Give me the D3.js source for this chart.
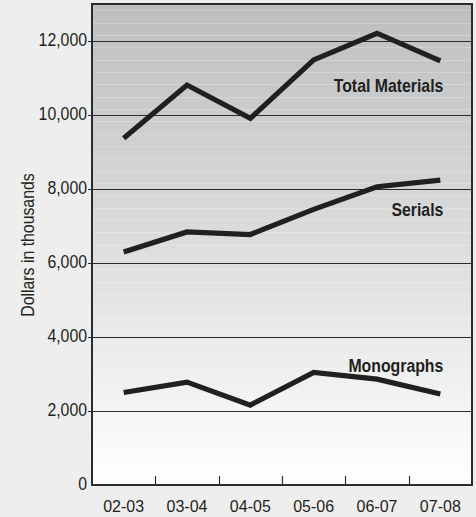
<!DOCTYPE html>
<html>
<head>
<meta charset="utf-8">
<script src="https://cdn.jsdelivr.net/npm/d3@7/dist/d3.min.js"></script>
<style>
  html, body { margin: 0; padding: 0; background: #eeeeee; }
  svg { display: block; }
  text { font-family: "Liberation Sans", Arial, Helvetica, sans-serif; fill: #231f20; }
</style>
</head>
<body>
<script>
const years = ["02-03", "03-04", "04-05", "05-06", "06-07", "07-08"];
const totalMaterials = [9370, 10810, 9910, 11490, 12210, 11460];
const serials = [6300, 6840, 6770, 7450, 8060, 8240];
const monographs = [2500, 2780, 2160, 3040, 2860, 2460];
const yTicks = [0, 2000, 4000, 6000, 8000, 10000, 12000];
const seriesNames = ["Total Materials", "Serials", "Monographs"];
const yTitle = "Dollars in thousands";

const W = 476, H = 517;
const margin = { top: 4, right: 4, bottom: 32, left: 92 };
const iw = W - margin.left - margin.right;
const ih = H - margin.top - margin.bottom;
const cond = 0.88; // horizontal condensing to mimic a condensed face

const svg = d3.select("body").append("svg").attr("width", W).attr("height", H);

const defs = svg.append("defs");
const grad = defs.append("linearGradient").attr("id", "bg").attr("x1", 0).attr("y1", 0).attr("x2", 0).attr("y2", 1);
grad.append("stop").attr("offset", "0%").attr("stop-color", "#bdbec0");
grad.append("stop").attr("offset", "55%").attr("stop-color", "#dfe0e1");
grad.append("stop").attr("offset", "100%").attr("stop-color", "#ffffff");

const g = svg.append("g").attr("transform", `translate(${margin.left},${margin.top})`);

const x = d3.scaleBand().domain(years).range([0, iw]).padding(0);
const y = d3.scaleLinear().domain([0, 13000]).range([ih, 0]);

g.append("rect").attr("width", iw).attr("height", ih).attr("fill", "url(#bg)");

// faint light stripes
const stripeVals = d3.range(12830, 0, -333.33);
g.selectAll(".stripe").data(stripeVals).join("line")
  .attr("x1", 0).attr("x2", iw)
  .attr("y1", d => Math.round(y(d)) + 0.5).attr("y2", d => Math.round(y(d)) + 0.5)
  .attr("stroke", "#ffffff").attr("stroke-opacity", 0.22).attr("stroke-width", 1);

// gridlines
g.selectAll(".grid").data(yTicks.filter(d => d > 0)).join("line")
  .attr("x1", -4).attr("x2", iw)
  .attr("y1", d => Math.round(y(d)) + 0.5).attr("y2", d => Math.round(y(d)) + 0.5)
  .attr("stroke", "#2b2b2b").attr("stroke-width", 1);

// y tick labels
g.selectAll(".ylab").data(yTicks).join("text")
  .attr("transform", d => `translate(-5,${y(d)}) scale(${cond},1)`)
  .attr("dy", "0.28em").attr("text-anchor", "end")
  .style("font-size", "18px")
  .text(d => d3.format(",")(d));

// x ticks (inside, at band boundaries)
g.selectAll(".xtick").data(years.slice(1)).join("line")
  .attr("x1", d => Math.round(x(d)) + 0.5).attr("x2", d => Math.round(x(d)) + 0.5)
  .attr("y1", ih).attr("y2", ih - 9)
  .attr("stroke", "#2b2b2b").attr("stroke-width", 1.2);

// x labels
g.selectAll(".xlab").data(years).join("text")
  .attr("transform", d => `translate(${x(d) + x.bandwidth() / 2},${ih + 26.5}) scale(0.97,1)`)
  .attr("text-anchor", "middle")
  .style("font-size", "16.5px")
  .text(d => d);

// frame
g.append("rect").attr("width", iw).attr("height", ih)
  .attr("fill", "none").attr("stroke", "#2b2b2b").attr("stroke-width", 2);

// lines
const line = d3.line().x((d, i) => x(years[i]) + x.bandwidth() / 2).y(d => y(d));
const series = [totalMaterials, serials, monographs];
g.selectAll(".series").data(series).join("path")
  .attr("d", d => line(d))
  .attr("fill", "none").attr("stroke", "#231f20").attr("stroke-width", 5.2)
  .attr("stroke-linejoin", "miter");

// series labels (right-aligned near last point)
const labelAnchor = [10622, 7257, 3062];
const lastX = x(years[years.length - 1]) + x.bandwidth() / 2;
g.selectAll(".slab").data(seriesNames).join("text")
  .attr("transform", (d, i) => `translate(${lastX + 3},${y(labelAnchor[i])}) scale(${cond},1)`)
  .attr("text-anchor", "end")
  .style("font-size", "18px").style("font-weight", "bold")
  .text(d => d);

// y title
svg.append("text")
  .attr("transform", `translate(34,${margin.top + y(6486)}) rotate(-90) scale(${cond},1)`)
  .attr("text-anchor", "middle")
  .style("font-size", "18px")
  .text(yTitle);
</script>
</body>
</html>
